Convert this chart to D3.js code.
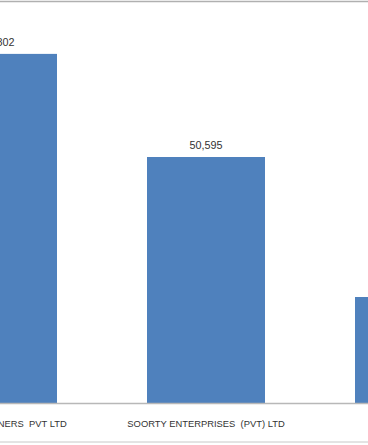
<!DOCTYPE html>
<html>
<head>
<meta charset="utf-8">
<script src="https://cdn.jsdelivr.net/npm/d3@7"></script>
<style>
  body { margin: 0; background: #fff; }
  svg { display: block; }
</style>
</head>
<body>
<div id="chart"></div>
<script>
// Chart data
const companies = ["ARTISTIC MILLINERS  PVT LTD", "SOORTY ENTERPRISES  (PVT) LTD", "US DENIM"];
const amounts = [71802, 50595, 21800];

const width = 368;
const height = 445;

const svg = d3.select("#chart")
  .append("svg")
    .attr("width", width)
    .attr("height", height);

// Band scale extends beyond the visible window (chart is cropped)
const x = d3.scaleBand()
  .domain(companies)
  .range([-106, 518])
  .paddingInner(0.4327)
  .paddingOuter(0.2163);

const y = d3.scaleLinear()
  .domain([0, 50595])
  .range([403, 157]);

// Outer frame lines
svg.append("line")
  .attr("x1", 0).attr("x2", width)
  .attr("y1", 1.5).attr("y2", 1.5)
  .attr("stroke", "#b0b0b0")
  .attr("stroke-width", 1.5);

svg.append("line")
  .attr("x1", 0).attr("x2", width)
  .attr("y1", 442).attr("y2", 442)
  .attr("stroke", "#c8c8c8")
  .attr("stroke-width", 1);

// Bars
svg.selectAll("rect.bar")
  .data(companies)
  .enter()
  .append("rect")
    .attr("class", "bar")
    .attr("x", d => x(d))
    .attr("width", x.bandwidth())
    .attr("y", (d, i) => y(amounts[i]))
    .attr("height", (d, i) => y(0) - y(amounts[i]))
    .attr("fill", "#4f81bd");

// Category axis
const xAxis = svg.append("g")
  .attr("transform", `translate(0, ${y(0)})`)
  .call(d3.axisBottom(x).tickSize(0).tickPadding(0));

xAxis.select(".domain")
  .attr("d", `M0,0.5H${width}`)
  .attr("stroke", "#b8b8b8")
  .attr("stroke-width", 1.5);

xAxis.selectAll("text")
  .attr("y", 24)
  .attr("dy", 0)
  .style("font-family", "'Liberation Sans', Arial, sans-serif")
  .style("font-size", "9.4px")
  .style("fill", "#333")
  .style("white-space", "pre");

// Value labels
svg.selectAll("text.value")
  .data(companies)
  .enter()
  .append("text")
    .attr("class", "value")
    .attr("x", d => x(d) + x.bandwidth() / 2)
    .attr("y", (d, i) => y(amounts[i]) - 8)
    .attr("text-anchor", "middle")
    .style("font-family", "'Liberation Sans', Arial, sans-serif")
    .style("font-size", "10.8px")
    .style("fill", "#333")
    .text((d, i) => d3.format(",")(amounts[i]));
</script>
</body>
</html>
